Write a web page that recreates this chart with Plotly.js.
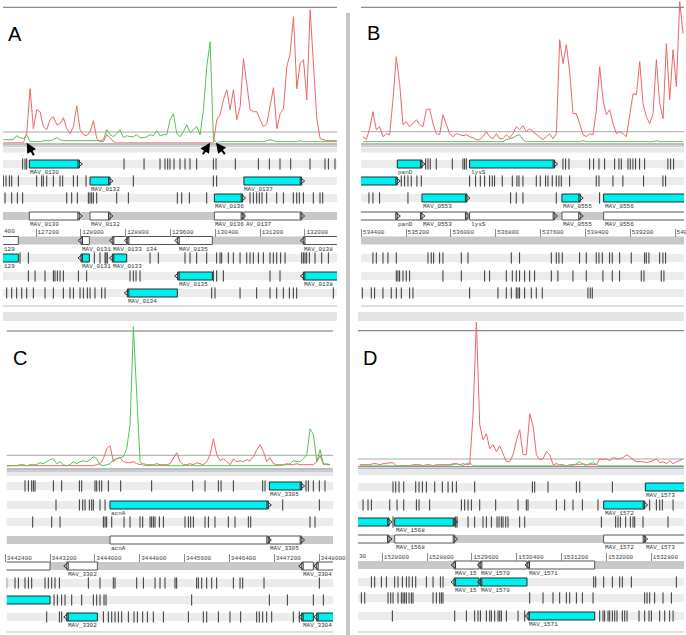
<!DOCTYPE html>
<html><head><meta charset="utf-8">
<script src="https://cdn.plot.ly/plotly-3.0.1.min.js"></script>
<style>html,body{margin:0;padding:0;background:#fff}#chart{width:686px;height:635px}</style>
</head><body><div id="chart"></div>
<script>
// ---------------- DATA ----------------
// sliding-window graph values (window step in bp)
const winStep = 59.5;

// Panel A  (MAV_0129 .. MAV_0138)
const aWinStart = 126618;
const aRed = [0,0,0,0,0,0,0,
  9,54,14,33,31,16,13,23,26,18,19,25,14,9,16,37,13,8,7,11,22,4,1,1,8,5,1,0,
  0,0,0,0,0,0,0,0,0,0,0,0,0,0,0,0,0,0,0,0,0,0,0,0,0,0,0,0,0,
  23,28,43,53,33,53,23,36,84,56,33,31,31,23,16,19,36,55,14,29,34,76,89,126,54,79,83,43,133,76,24,4,3,2,2,2,2];
const aGreen = [3,3,3,3,7,5,4,8,1,1,1,1,2,2,2,3,5,3,2,
  2,2,2,2,2,2,2,2,2,2,2,
  3,13,8,6,9,13,5,7,6,6,8,5,5,6,8,7,12,7,8,8,23,29,9,6,11,18,10,13,16,8,33,76,101,3,0,
  1,1,1,1,1,1,1,1,1,1,1,1,1,1,2,3,2,1,1,1,1,1,1,1,2,1,1,1,1,1,1,1,1,1,1,1];
const aGeneName  = ['MAV_0129','MAV_0130','MAV_0131','MAV_0132','MAV_0133','MAV_0134','MAV_0135','MAV_0136','MAV_0137','MAV_0138'];
const aGeneStart = [126290,127081,128003,128164,128562,128830,129728,130383,130910,131971];
const aGeneEnd   = [126885,127974,128152,128521,128818,129722,130347,130888,131941,133000];
const aGeneFrame = ['r1','f1','r1','f2','r1','r3','r2','f3','f2','r2'];
const aLabelText = ['MAV_0130','MAV_0132','MAV_0137','MAV_0136','MAV_0130','MAV_0132','MAV_0136','AV_0137','129','MAV_0131','MAV_0133','134','MAV_0135','MAV_0138','129','MAV_0131','MAV_0133','MAV_0135','MAV_0138','MAV_0134'];
const aLabelPos  = [127081,128164,130900,130383,127081,128164,130383,130930,126617,128003,128562,129150,129728,131971,126617,128003,128562,129728,131971,128830];
const aLabelRow  = ['f1','f2','f2','f3','fwd','fwd','fwd','fwd','rev','rev','rev','rev','rev','rev','r1','r1','r1','r2','r2','r3'];
const aStopF1 = [126962,127004,127034,128771,129128,129413,129502,129550,129591,129663,129770,129859,129948,130067,130365,130412,130757,131168,131364,131554,131745,132090,132357,132417,132536];
const aStopF2 = [126617,126665,126725,126766,126885,127212,127301,127331,127391,127510,127629,127676,127867,127938,128093,128937,130365,130424];
const aStopF3 = [126647,126766,126867,126962,127748,127837,127938,128134,128164,128194,128223,128283,128640,128848,129722,129800,129937,130246,131019,131078,131138,131185,131233,131316,131495,131614,131792,131852,131899,131971,132149,132268,132316];
const aStopR1 = [126915,127064,128241,128342,128432,128449,128473,129235,129383,129859,129948,130067,130246,130424,130484,130513,130632,130722,130841,130960,131019,131078,131168,131257,131376,131435,131495,131566,131644,131941,131971,132000,132030,132078,132179,132298,132417];
const aStopR2 = [127064,127183,127361,127510,127539,127581,127629,127688,127956,128104,128878,128937,128985,129056,130365,130424,130543,131376,131554];
const aStopR3 = [126677,126766,126855,126945,127034,127153,127361,127510,127688,127807,127867,127986,128045,128116,128164,128253,128372,128432,130335,130394,130841,131138,131376,131495,131614,131721,131792,131852,132506];
const aArrowPos = [127034,130305,130412];

// Panel B  (panD / lysS)
const bWinStart = 534430;
const bRed = [6,3,14,31,13,16,6,9,8,43,
  86,59,18,21,16,19,23,18,16,33,
  34,19,9,8,28,19,9,6,9,8,
  7,8,6,5,3,3,6,11,6,4,
  9,4,4,8,5,9,16,13,17,11,
  14,11,8,6,3,6,9,4,9,103,
  79,98,71,29,29,19,8,6,9,8,
  33,76,43,28,33,19,9,11,9,6,
  29,49,48,81,39,26,19,29,83,39,
  24,99,43,93,56,141,109];
const bGreen = [1,1,1,1,1,1,1,1,1,1,1,1,1,1,1,1,1,1,1,1,1,1,1,1,1,1,1,1,1,1,1,1,1,1,1,1,1,1,1,1,1,1,1,
  3,4,5,7,8,3,
  1,1,1,1,1,1,1,1,1,1,1,1,1,1,1,1,1,2,1,1,1,1,1,1,1,1,1,1,1,1,1,1,1,1,1,1,1,1,1,2,1,1,1,1,1,1,1,1];
const bGeneName  = ['MAV_0551','panD','MAV_0553','lysS','MAV_0555','MAV_0556'];
const bGeneStart = [533900,535043,535483,536333,537981,538724];
const bGeneEnd   = [535043,535483,536286,537850,538308,540800];
const bGeneFrame = ['f2','f1','f3','f1','f3','f3'];
const bLabelText = ['panD','lysS','MAV_0553','MAV_0555','MAV_0556','panD','MAV_0553','lysS','MAV_0555','MAV_0556'];
const bLabelPos  = [535043,536340,535483,537981,538724,535043,535483,536333,537981,538724];
const bLabelRow  = ['f1','f1','f3','f3','f3','fwd','fwd','fwd','fwd','fwd'];
const bStopF1 = [535548,535590,535631,535738,536024,536214,536244,536274,537999,538046,538106,538475,538546,538641,538742,538921,538998,539040,539159,539200,539248,539295,539367,539456,539872,539920,539973];
const bStopF2 = [535114,535173,535233,535292,535393,535471,536333,536440,536524,536601,536690,536738,536779,536916,537095,537178,537214,537285,537523,537594,537689,537731,537808,537880,537927,537969,538118,538593,538641,538891,539069,539438,539783,539831];
const bStopF3 = [534537,534608,534727,535233,537065,537166,537285,537880,538653];
const bStopR1 = [534608,534668,534787,534876,535025,535590,535649,535691,535798,535857,536185,536304,537077,537225,537791,537880,537927,537987,538296,538415,538593,538641,538701,538831,538879,539010,539218,539456,539486,539533,539724,539783,539831];
const bStopR2 = [535025,535054,535084,535144,535203,535263,535857,536185,536601,536690,536988,537095,537166,537225,537315,537404,537493,537791,537909,538177,538415,538712,538879,539010,539396,539444,539753,539801];
const bStopR3 = [534418,534579,534638,534787,534935,535025,535114,535263,535322,536333,536839,536988,537077,537166,537196,537225,537315,537434,537523,537630,538445,538486,538522];

// Panel C  (acnA)
const cWinStart = 3442427;
const cRed = [1,1,1,1,1,1,1,1,1,1,1,1,1,1,1,1,1,1,1,1,1,1,1,1,1,1,1,2,
  3,8,18,21,5,8,9,5,4,4,
  5,3,2,3,2,2,2,3,2,2,
  2,3,8,14,5,2,2,3,2,4,
  3,2,5,12,28,12,6,8,5,2,
  8,5,6,5,7,6,10,17,22,15,
  5,9,3,2,2,2,3,2,2,3,
  2,2,2,2,2,5,11,3,2,2];
const cGreen = [0,1,1,1,2,2,1,2,2,2,
  4,3,5,7,8,3,5,2,1,2,
  5,3,5,6,5,7,10,8,2,1,
  2,3,7,8,9,10,18,42,140,70,
  5,
  1,1,1,1,1,1,1,1,1,1,1,1,1,1,1,1,1,1,1,1,1,1,1,1,1,1,1,1,1,1,1,1,1,1,1,1,1,1,1,1,1,1,
  2,2,3,6,5,5,8,12,38,32,5,17,2,3,2];
const cGeneName  = ['MAV_3301','MAV_3302','acnA','MAV_3304','MAV_3305','MAV_3306'];
const cGeneStart = [3441500,3443498,3444271,3447691,3447114,3447959];
const cGeneEnd   = [3443200,3444045,3447096,3447899,3447691,3448700];
const cGeneFrame = ['r2','r3','f2','r3','f1','r3'];
const cLabelText = ['MAV_3305','acnA','acnA','MAV_3305','MAV_3302','MAV_3304','MAV_3302','MAV_3304'];
const cLabelPos  = [3447114,3444271,3444271,3447114,3443498,3447691,3443498,3447691];
const cLabelRow  = ['f1','f2','fwd','fwd','rev','rev','r3','r3'];
const cStopF1 = [3442754,3442814,3442873,3442903,3442933,3443260,3443408,3443724,3443765,3444003,3444033,3444080,3444122,3444241,3444461,3445014,3445746,3445966,3446204,3446252,3446472,3446995,3447037,3447768,3447810,3447899,3448006,3448107];
const cStopF2 = [3443307,3443724,3443783,3443825,3443902,3443944,3443973,3444092,3444182,3447352,3448006];
const cStopF3 = [3442891,3443230,3443379,3444152,3444182,3444211,3444301,3444521,3444628,3444806,3444854,3444985,3445014,3445044,3445074,3445151,3445223,3445609,3445669,3445710,3445758,3445966,3446026,3446144,3446382,3446501,3446739,3446781,3447840,3447929];
const cStopR1 = [3442427,3442576,3442635,3442754,3442814,3442873,3443111,3443170,3443230,3443289,3443367,3443884,3444092,3444330,3444360,3444747,3444866,3445074,3445163,3445252,3445431,3445460,3445817,3445847,3445907,3445996,3446085,3446174,3446472,3446591,3446638,3447019,3448006];
const cStopR2 = [3443272,3443331,3443408,3443468,3443587,3443765,3443973,3444033,3444092,3444164,3444199,3445728,3447114,3447435,3447899,3448078];
const cStopR3 = [3443141,3443367,3443408,3444152,3444241,3444301,3444360,3444420,3444479,3444598,3444699,3444759,3444854,3444937,3445044,3445223,3445669,3445936,3445996,3446204,3446412,3446602,3446888,3446935,3446995,3447066,3447156,3447542,3447649];

// Panel D  (MAV_1567 .. MAV_1573)
const dWinStart = 1527596;
const dRed = [1,1,1,1,2,2,1,2,2,3,
  3,0,0,0,0,0,1,1,1,0,
  1,1,0,1,1,1,1,1,2,2,
  1,2,1,1,51,144,41,26,32,17,
  21,14,20,11,4,4,11,25,36,11,
  11,52,40,11,6,7,14,11,1,2,
  1,1,0,1,1,1,1,2,1,1,
  1,1,7,6,7,5,8,7,7,8,
  11,9,6,4,4,4,3,4,5,7,
  3,4,2,5,2,4,5,7];
const dGreen = [0,0,0,0,0,0,0,0,0,0,0,0,0,0,0,0,0,0,0,0,0,0,0,0,0,0,0,0,
  1,2,1,0,2,3,
  0,0,0,0,0,0,0,0,0,0,0,0,0,0,0,0,0,0,0,0,0,0,0,0,0,0,0,0,0,0,0,
  2,4,1,0,2,3,1,
  0,0,0,0,0,0,0,0,0,0,0,0,0,0,0,0,0,0,0,0,0,0,0,0,0,0];
const dGeneName  = ['MAV_1567','MAV_1568','MAV_1569','MAV_1570','MAV_1571','MAV_1572','MAV_1573'];
const dGeneStart = [1527000,1528221,1529280,1529750,1530600,1531950,1532694];
const dGeneEnd   = [1528120,1529292,1529726,1530582,1531790,1532682,1533900];
const dGeneFrame = ['f3','f3','r1','r1','r3','f2','f1'];
const dLabelText = ['MAV_1573','MAV_1572','MAV_1568','MAV_1568','MAV_1572','MAV_1573','MAV_15','MAV_1570','MAV_1571','MAV_15','MAV_1570','MAV_1571'];
const dLabelPos  = [1532694,1531950,1528221,1528221,1531950,1532694,1529280,1529750,1530600,1529280,1529750,1530600];
const dLabelRow  = ['f1','f2','f3','fwd','fwd','fwd','rev','rev','rev','r1','r1','r3'];
const dStopF1 = [1528191,1528239,1528298,1528382,1528596,1528655,1528715,1528786,1528935,1529071,1529173,1529250,1529321,1529648,1530678,1530719,1530957,1531463,1531522,1532105];
const dStopF2 = [1527656,1527745,1527805,1528132,1528263,1528382,1528608,1528655,1528845,1529411,1529470,1529530,1529589,1529738,1530023,1530422,1530570,1530600,1531106,1531254,1531403,1531570,1531849,1532771,1532890,1532950,1532997,1533188];
const dStopF3 = [1528191,1529309,1529333,1529530,1529648,1529797,1529857,1529946,1530047,1530083,1530124,1530154,1530202,1530243,1530451,1530541,1531909,1532164,1532206,1532248,1532343,1532426,1532474,1532504,1532652,1533098];
const dStopR1 = [1527805,1527864,1527983,1528072,1528221,1528280,1528358,1528429,1528477,1528536,1528596,1528786,1528905,1529036,1529083,1531772,1531808,1531950,1532105,1532236,1532283,1532444,1533247];
const dStopR2 = [1527626,1527686,1528102,1528150,1528191,1528280,1528340,1528370,1528399,1528429,1528477,1528518,1528548,1528905,1528964,1529024,1529054,1529083,1530630,1530868,1531046,1531165,1531284,1531344,1531463,1531570,1531760,1532682,1532724,1532771,1532860,1533009,1533158];
const dStopR3 = [1528179,1529292,1529500,1529648,1529708,1529750,1529857,1529916,1529946,1530005,1530065,1530095,1530124,1530214,1530422,1530541,1531879,1531938,1531968,1532028,1532057,1532105,1532147,1532188,1532283,1532325,1532367,1532581,1532682,1532759,1532801,1532950,1533039,1533128,1533188];

// ---------------- LAYOUT (pixel geometry of the 686x635 figure) ----------------
const W = 686, H = 635, BP = 17.845;   // bp per pixel
const fx = p => p / W, fy = p => 1 - p / H;
const rowsTop = {f1:164,f2:181,f3:198,fwd:216,rev:240.5,r1:258,r2:276,r3:293};
const rowsC = {f1:486,f2:505,f3:522,fwd:540,rev:566,r1:583,r2:600,r3:617};
const rowsD = {f1:487,f2:505,f3:522,fwd:539,rev:565,r1:582,r2:598,r3:616};

const panels = [
  {letter:'A', lx:15, ly:34, x0:3, x1:337, g0:126611, top:0, base:142.7, topLine:7.3, thresh:132, lines:[144,146], band:[147.5,152.5],
   trTop:153, trBot:311, rows:rowsTop, scaleY:236.5, bottom:306, stub:'400', stubX:3,
   winStart:aWinStart, red:aRed, green:aGreen, gName:aGeneName, gStart:aGeneStart, gEnd:aGeneEnd, gFrame:aGeneFrame,
   lText:aLabelText, lPos:aLabelPos, lRow:aLabelRow, stops:{f1:aStopF1,f2:aStopF2,f3:aStopF3,r1:aStopR1,r2:aStopR2,r3:aStopR3}},
  {letter:'B', lx:373, ly:33, x0:361, x1:684, g0:534395, top:0, base:142.7, topLine:7.3, thresh:131.7, lines:[144,146], band:[147.5,152.5],
   trTop:153, trBot:311, rows:rowsTop, scaleY:236.5, bottom:306, stub:null,
   winStart:bWinStart, red:bRed, green:bGreen, gName:bGeneName, gStart:bGeneStart, gEnd:bGeneEnd, gFrame:bGeneFrame,
   lText:bLabelText, lPos:bLabelPos, lRow:bLabelRow, stops:{f1:bStopF1,f2:bStopF2,f3:bStopF3,r1:bStopR1,r2:bStopR2,r3:bStopR3}},
  {letter:'C', lx:20, ly:358, x0:6.7, x1:333, g0:3442427, top:322, base:466.7, topLine:331, thresh:455.3, lines:[469,471], band:[471.5,476],
   trTop:477, trBot:635, rows:rowsC, scaleY:562, bottom:632, stub:null,
   winStart:cWinStart, red:cRed, green:cGreen, gName:cGeneName, gStart:cGeneStart, gEnd:cGeneEnd, gFrame:cGeneFrame,
   lText:cLabelText, lPos:cLabelPos, lRow:cLabelRow, stops:{f1:cStopF1,f2:cStopF2,f3:cStopF3,r1:cStopR1,r2:cStopR2,r3:cStopR3}},
  {letter:'D', lx:370, ly:358, x0:358, x1:684, g0:1527566, top:322, base:465.7, topLine:330.7, thresh:459, lines:[466.7,468.3], band:[469,475],
   trTop:477, trBot:635, rows:rowsD, scaleY:561, bottom:632, stub:'30', stubX:358,
   winStart:dWinStart, red:dRed, green:dGreen, gName:dGeneName, gStart:dGeneStart, gEnd:dGeneEnd, gFrame:dGeneFrame,
   lText:dLabelText, lPos:dLabelPos, lRow:dLabelRow, stops:{f1:dStopF1,f2:dStopF2,f3:dStopF3,r1:dStopR1,r2:dStopR2,r3:dStopR3}}
];

const MONO = 'Liberation Mono, DejaVu Sans Mono, monospace';
const LBL = 6;
const traces = [], shapes = [], annotations = [];
const layout = {width:W, height:H, margin:{l:0,r:0,t:0,b:0}, autosize:false, showlegend:false,
  paper_bgcolor:'#ffffff', plot_bgcolor:'rgba(0,0,0,0)', barmode:'overlay', hovermode:false};

const hline = (x0,x1,y,color) => ({type:'line',xref:'paper',yref:'paper',x0:fx(x0),x1:fx(x1),y0:fy(y),y1:fy(y),line:{color:color,width:1},layer:'below'});
const rect = (x0,x1,y0,y1,fill) => ({type:'rect',xref:'paper',yref:'paper',x0:fx(x0),x1:fx(x1),y0:fy(y1),y1:fy(y0),fillcolor:fill,line:{width:0},layer:'below'});
const axName = id => (id[0]==='x'?'xaxis':'yaxis') + id.slice(1);

panels.forEach((P, i) => {
  const n = 2*i;
  const xm = n===0 ? 'x' : 'x'+(n+1), xs = 'x'+(n+2);
  const yg = n===0 ? 'y' : 'y'+(n+1), yt = 'y'+(n+2);
  const g1 = P.g0 + (P.x1 - P.x0) * BP;
  layout[axName(xm)] = {domain:[fx(P.x0), fx(P.x1)], range:[P.g0, g1], anchor:yg, visible:false, fixedrange:true};
  layout[axName(yg)] = {domain:[fy(P.base), fy(P.top)], range:[0, P.base - P.top], anchor:xm, visible:false, fixedrange:true};
  layout[axName(yt)] = {domain:[fy(P.trBot), fy(P.trTop)], range:[P.trBot, P.trTop], anchor:xm, visible:false, fixedrange:true};
  layout[axName(xs)] = {domain:[fx(P.x0-3), fx(P.x1)], range:[P.g0 - 3*BP, g1], anchor:'free', position:fy(P.scaleY),
    showgrid:false, zeroline:false, showline:false, ticks:'inside', ticklen:8, tickwidth:1, tickcolor:'#8a8a8a',
    tickmode:'linear', tick0:0, dtick:800, tickformat:'d', ticklabelposition:'inside right', ticklabeloverflow:'allow',
    ticklabelstandoff:-5, ticklabelshift:1,
    tickfont:{family:MONO, size:LBL, color:'#444'}, fixedrange:true};
  traces.push({type:'scatter', mode:'markers', x:[], y:[], xaxis:xs, yaxis:yt, hoverinfo:'skip'});

  // decorations
  shapes.push(hline(P.x0, P.x1, P.topLine, '#6e6e6e'));
  shapes.push(hline(P.x0, P.x1, P.thresh, '#a8a8a8'));
  shapes.push(rect(P.x0, P.x1, P.band[0], P.band[1], '#e8e8e8'));
  shapes.push(hline(P.x0, P.x1, P.lines[0], '#7a7a7a'));
  shapes.push(hline(P.x0, P.x1, P.lines[1], '#9aa4b8'));
  shapes.push(hline(P.x0, P.x1, P.bottom, '#b9bfcb'));
  ['f1','f2','f3','r1','r2','r3'].forEach(k => shapes.push(rect(P.x0, P.x1, P.rows[k]-4, P.rows[k]+4, '#ececec')));
  ['fwd','rev'].forEach(k => shapes.push(rect(P.x0, P.x1, P.rows[k]-4, P.rows[k]+4, '#c8c8c8')));

  // graph lines
  const xsWin = P.red.map((_, k) => P.winStart + k*winStep);
  traces.push({type:'scatter', mode:'lines', x:xsWin, y:P.red, xaxis:xm, yaxis:yg, line:{color:'#ee6666', width:1}, hoverinfo:'skip'});
  traces.push({type:'scatter', mode:'lines', x:P.green.map((_, k) => P.winStart + k*winStep), y:P.green, xaxis:xm, yaxis:yg, line:{color:'#55c055', width:1}, hoverinfo:'skip'});

  // stop codons
  Object.keys(P.stops).forEach(k => {
    traces.push({type:'scatter', mode:'markers', x:P.stops[k], y:P.stops[k].map(() => P.rows[k]), xaxis:xm, yaxis:yt,
      marker:{symbol:'line-ns', size:8, color:'#333', line:{width:1, color:'#333'}}, hoverinfo:'skip'});
  });

  // genes: cyan boxes in frame rows, white boxes on the DNA strand rows
  const strand = P.gFrame.map(f => f[0]==='f' ? 'fwd' : 'rev');
  const lens = P.gStart.map((s, k) => P.gEnd[k] - s);
  traces.push({type:'bar', orientation:'h', xaxis:xm, yaxis:yt, y:strand.map(s => P.rows[s]), base:P.gStart, x:lens, width:8,
    marker:{color:'#ffffff', line:{color:'#555', width:1}}, hoverinfo:'skip'});
  traces.push({type:'bar', orientation:'h', xaxis:xm, yaxis:yt, y:P.gFrame.map(f => P.rows[f]), base:P.gStart, x:lens, width:8,
    marker:{color:'#00f0f0', line:{color:'#1d3030', width:1}}, hoverinfo:'skip'});
  const tipX = [], tipY = [], tipS = [];
  P.gFrame.forEach((f, k) => {
    const fw = f[0]==='f';
    [P.rows[f], P.rows[strand[k]]].forEach(y => {
      tipX.push(fw ? P.gEnd[k] : P.gStart[k]); tipY.push(y); tipS.push(fw ? 'triangle-right-open' : 'triangle-left-open');
    });
  });
  traces.push({type:'scatter', mode:'markers', x:tipX, y:tipY, xaxis:xm, yaxis:yt,
    marker:{symbol:tipS, size:6, color:'#333', line:{width:1, color:'#333'}}, hoverinfo:'skip'});

  // feature labels
  P.lText.forEach((t, k) => {
    annotations.push({xref:xm, yref:yt, x:P.lPos[k], y:P.rows[P.lRow[k]] + 4.3, text:t, showarrow:false,
      xanchor:'left', yanchor:'top', borderpad:0, font:{family:MONO, size:LBL, color:'#333'}});
  });
  if (P.stub) annotations.push({xref:'paper', yref:'paper', x:fx(P.stubX), y:fy(P.scaleY-0.5), text:P.stub, showarrow:false,
      xanchor:'left', yanchor:'bottom', borderpad:0, font:{family:MONO, size:LBL, color:'#444'}});

  // panel letter
  annotations.push({xref:'paper', yref:'paper', x:fx(P.lx), y:fy(P.ly), text:P.letter, showarrow:false,
    xanchor:'center', yanchor:'middle', font:{family:'Liberation Sans, Arial, sans-serif', size:20, color:'#000'}});

  if (P.letter === 'A') {
    const offs = [[8,14],[-8,13],[10,13]];
    aArrowPos.forEach((g, k) => annotations.push({xref:xm, yref:yg, x:g, y:0, ax:offs[k][0], ay:offs[k][1], text:'',
      showarrow:true, arrowhead:2, arrowsize:1, arrowwidth:2, arrowcolor:'#000'}));
  }
});

// separators between the four views
shapes.push(rect(3, 337, 312, 321, '#e4e4e4'));
shapes.push(rect(358, 684, 312, 321, '#e4e4e4'));
shapes.push(rect(346, 350, 13, 635, '#c6c6c6'));

layout.shapes = shapes;
layout.annotations = annotations;
Plotly.newPlot('chart', traces, layout, {staticPlot:true, displayModeBar:false});
</script></body></html>
